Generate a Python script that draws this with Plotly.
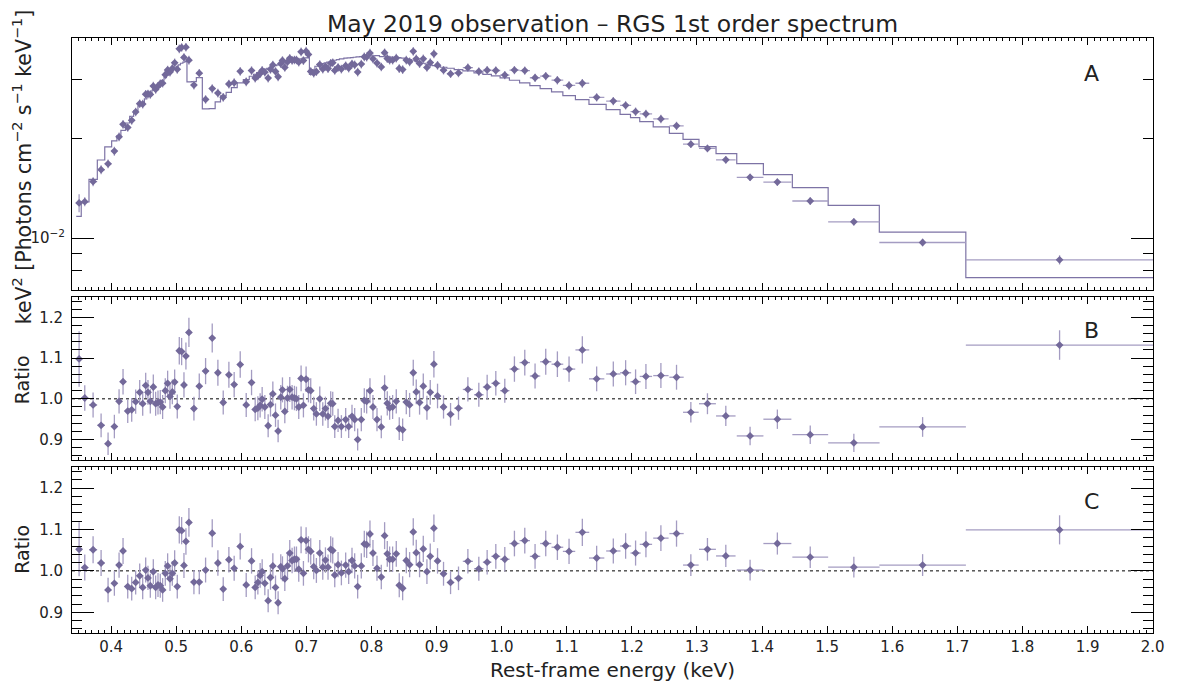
import numpy as np
import plotly.graph_objects as go

# ---------------- data ----------------
energy = [
    0.3509, 0.3596, 0.3724, 0.3847, 0.3954, 0.4051, 0.4123, 0.4184, 0.4256, 0.4317,
    0.4378, 0.4440, 0.4486, 0.4532, 0.4567, 0.4603, 0.4649, 0.4685, 0.4721, 0.4756,
    0.4792, 0.4833, 0.4869, 0.4905, 0.4941, 0.4977, 0.5017, 0.5048, 0.5084, 0.5120,
    0.5150, 0.5196, 0.5273, 0.5355, 0.5452, 0.5554, 0.5641, 0.5723, 0.5810, 0.5891,
    0.5984, 0.6076, 0.6158, 0.6214, 0.6255, 0.6290, 0.6321, 0.6362, 0.6413, 0.6449,
    0.6485, 0.6526, 0.6566, 0.6607, 0.6633, 0.6669, 0.6710, 0.6745, 0.6781, 0.6817,
    0.6848, 0.6883, 0.6919, 0.6955, 0.6996, 0.7032, 0.7067, 0.7113, 0.7154, 0.7206,
    0.7252, 0.7293, 0.7333, 0.7374, 0.7405, 0.7436, 0.7487, 0.7538, 0.7604, 0.7650,
    0.7701, 0.7742, 0.7788, 0.7844, 0.7890, 0.7926, 0.7977, 0.8023, 0.8085, 0.8151,
    0.8202, 0.8243, 0.8279, 0.8325, 0.8381, 0.8427, 0.8479, 0.8535, 0.8586, 0.8642,
    0.8688, 0.8739, 0.8796, 0.8852, 0.8903, 0.8959, 0.9015, 0.9107, 0.9215, 0.9337,
    0.9481, 0.9649, 0.9777, 0.9910, 1.0048, 1.0196, 1.0355, 1.0513, 1.0677, 1.0856,
    1.1035, 1.1239, 1.1459, 1.1715, 1.1904, 1.2057, 1.2216, 1.2446, 1.2686, 1.2906,
    1.3161, 1.3443, 1.3816, 1.4235, 1.474, 1.541, 1.6466, 1.857,
]

half_width = [
    0.0044, 0.0054, 0.0063, 0.0058, 0.0051, 0.0042, 0.0033, 0.0033, 0.0033, 0.0031,
    0.0031, 0.0027, 0.0023, 0.0020, 0.0018, 0.0020, 0.0021, 0.0018, 0.0018, 0.0018,
    0.0019, 0.0019, 0.0018, 0.0018, 0.0018, 0.0019, 0.0018, 0.0017, 0.0018, 0.0017,
    0.0019, 0.0030, 0.0040, 0.0045, 0.0050, 0.0047, 0.0042, 0.0042, 0.0042, 0.0043,
    0.0046, 0.0044, 0.0035, 0.0024, 0.0019, 0.0017, 0.0018, 0.0023, 0.0022, 0.0018,
    0.0019, 0.0020, 0.0020, 0.0017, 0.0016, 0.0019, 0.0019, 0.0018, 0.0018, 0.0017,
    0.0017, 0.0018, 0.0018, 0.0019, 0.0019, 0.0018, 0.0020, 0.0022, 0.0023, 0.0025,
    0.0022, 0.0020, 0.0020, 0.0018, 0.0015, 0.0020, 0.0025, 0.0030, 0.0028, 0.0024,
    0.0023, 0.0022, 0.0025, 0.0025, 0.0020, 0.0022, 0.0024, 0.0027, 0.0030, 0.0028,
    0.0023, 0.0019, 0.0020, 0.0025, 0.0026, 0.0025, 0.0027, 0.0027, 0.0027, 0.0025,
    0.0025, 0.0027, 0.0028, 0.0027, 0.0027, 0.0028, 0.0037, 0.0050, 0.0057, 0.0066,
    0.0078, 0.0074, 0.0066, 0.0068, 0.0072, 0.0077, 0.0080, 0.0080, 0.0086, 0.0090,
    0.0095, 0.0106, 0.0118, 0.0110, 0.0085, 0.0078, 0.0095, 0.0118, 0.0110, 0.0120,
    0.0130, 0.0150, 0.0205, 0.0215, 0.0275, 0.0395, 0.0665, 0.1440,
]

flux = [
    0.01276, 0.01287, 0.01479, 0.01606, 0.01673, 0.01827, 0.02017, 0.02199, 0.02153, 0.02262,
    0.02396, 0.02538, 0.02531, 0.02709, 0.02714, 0.02705, 0.02866, 0.02803, 0.02864, 0.02914,
    0.02925, 0.03101, 0.03207, 0.03159, 0.03238, 0.03369, 0.03219, 0.03712, 0.03748, 0.03497,
    0.03754, 0.03431, 0.02886, 0.03134, 0.02613, 0.02817, 0.02732, 0.02653, 0.02908, 0.02936,
    0.03176, 0.02954, 0.03192, 0.03030, 0.03076, 0.03126, 0.03196, 0.03157, 0.03030, 0.03220,
    0.03320, 0.03172, 0.03058, 0.03348, 0.03424, 0.03262, 0.03389, 0.03475, 0.03427, 0.03436,
    0.03437, 0.03384, 0.03634, 0.03421, 0.03652, 0.03570, 0.03173, 0.03137, 0.03167, 0.03327,
    0.03226, 0.03285, 0.03237, 0.03360, 0.03372, 0.03196, 0.03262, 0.03226, 0.03300, 0.03248,
    0.03343, 0.03322, 0.03158, 0.03338, 0.03511, 0.03505, 0.03604, 0.03462, 0.03361, 0.03274,
    0.03612, 0.03470, 0.03432, 0.03431, 0.03480, 0.03238, 0.03213, 0.03433, 0.03393, 0.03648,
    0.03463, 0.03352, 0.03462, 0.03262, 0.03373, 0.03585, 0.03312, 0.03201, 0.03121, 0.03140,
    0.03257, 0.03171, 0.03201, 0.03193, 0.03094, 0.03203, 0.03191, 0.03037, 0.03073, 0.02987,
    0.02880, 0.02923, 0.02651, 0.02584, 0.02509, 0.02401, 0.02364, 0.02283, 0.02177, 0.01917,
    0.01861, 0.01720, 0.01523, 0.01474, 0.01293, 0.01119, 0.00970, 0.00860,
]

model = [
    0.01162, 0.01284, 0.01502, 0.01718, 0.01880, 0.01960, 0.02029, 0.02110, 0.02220, 0.02325,
    0.02413, 0.02498, 0.02562, 0.02622, 0.02671, 0.02721, 0.02785, 0.02837, 0.02890, 0.02937,
    0.02985, 0.03040, 0.03090, 0.03140, 0.03184, 0.03236, 0.03281, 0.03320, 0.03358, 0.03382,
    0.03397, 0.02950, 0.02957, 0.03040, 0.02447, 0.02452, 0.02568, 0.02677, 0.02746, 0.02837,
    0.02930, 0.02999, 0.03069, 0.03111, 0.03148, 0.03177, 0.03199, 0.03221, 0.03244, 0.03266,
    0.03281, 0.03304, 0.03320, 0.03335, 0.03350, 0.03366, 0.03382, 0.03397, 0.03413, 0.03429,
    0.03437, 0.03453, 0.03461, 0.03477, 0.03485, 0.03493, 0.03111, 0.03214, 0.03289, 0.03327,
    0.03350, 0.03366, 0.03382, 0.03397, 0.03413, 0.03429, 0.03445, 0.03461, 0.03477, 0.03485,
    0.03493, 0.03501, 0.03509, 0.03517, 0.03525, 0.03525, 0.03533, 0.03533, 0.03542, 0.03517,
    0.03517, 0.03509, 0.03509, 0.03501, 0.03501, 0.03493, 0.03477, 0.03461, 0.03445, 0.03429,
    0.03405, 0.03382, 0.03358, 0.03335, 0.03320, 0.03304, 0.03289, 0.03266, 0.03244, 0.03214,
    0.03184, 0.03140, 0.03111, 0.03076, 0.03033, 0.02985, 0.02930, 0.02876, 0.02817, 0.02753,
    0.02684, 0.02610, 0.02527, 0.02435, 0.02358, 0.02304, 0.02241, 0.02160, 0.02067, 0.01982,
    0.01884, 0.01795, 0.01675, 0.01552, 0.01418, 0.01254, 0.01042, 0.00760,
]

ratio_b = [
    1.098, 1.002, 0.985, 0.935, 0.890, 0.932, 0.994, 1.042, 0.970, 0.973,
    0.993, 1.016, 0.988, 1.033, 1.016, 0.994, 1.029, 0.988, 0.991, 0.992,
    0.980, 1.020, 1.038, 1.006, 1.017, 1.041, 0.981, 1.118, 1.116, 1.034,
    1.105, 1.163, 0.976, 1.031, 1.068, 1.149, 1.064, 0.991, 1.059, 1.035,
    1.084, 0.985, 1.040, 0.974, 0.977, 0.984, 0.999, 0.980, 0.934, 0.986,
    1.012, 0.960, 0.921, 1.004, 1.022, 0.969, 1.002, 1.023, 1.004, 1.002,
    1.000, 0.980, 1.050, 0.984, 1.048, 1.022, 1.020, 0.976, 0.963, 1.000,
    0.963, 0.976, 0.957, 0.989, 0.988, 0.932, 0.947, 0.932, 0.949, 0.932,
    0.957, 0.949, 0.900, 0.949, 0.996, 0.994, 1.020, 0.980, 0.949, 0.931,
    1.027, 0.989, 0.978, 0.980, 0.994, 0.927, 0.924, 0.992, 0.985, 1.064,
    1.017, 0.991, 1.031, 0.978, 1.016, 1.085, 1.007, 0.980, 0.962, 0.977,
    1.023, 1.010, 1.029, 1.038, 1.020, 1.073, 1.089, 1.056, 1.091, 1.085,
    1.073, 1.120, 1.049, 1.061, 1.064, 1.042, 1.055, 1.057, 1.053, 0.967,
    0.988, 0.958, 0.909, 0.950, 0.912, 0.892, 0.931, 1.132,
]

ratio_c = [
    1.052, 1.008, 1.051, 1.019, 0.954, 0.970, 1.014, 1.048, 0.962, 0.957,
    0.972, 0.988, 0.960, 1.002, 0.983, 0.964, 0.998, 0.960, 0.966, 0.964,
    0.954, 0.994, 1.012, 0.981, 0.994, 1.019, 0.962, 1.099, 1.097, 1.013,
    1.071, 1.117, 0.973, 0.973, 1.002, 1.091, 1.019, 0.956, 1.027, 1.006,
    1.059, 0.966, 1.024, 0.960, 0.972, 0.989, 0.998, 0.970, 0.928, 0.984,
    1.012, 0.960, 0.923, 1.010, 1.005, 0.981, 1.012, 1.043, 1.025, 1.028,
    1.028, 1.004, 1.075, 0.994, 1.073, 1.052, 1.047, 1.010, 1.001, 1.043,
    1.009, 1.026, 1.009, 1.052, 1.049, 0.990, 1.015, 0.995, 1.014, 0.998,
    1.025, 1.012, 0.962, 1.012, 1.065, 1.063, 1.089, 1.043, 1.006, 0.985,
    1.085, 1.041, 1.028, 1.028, 1.041, 0.965, 0.958, 1.025, 1.015, 1.094,
    1.044, 1.015, 1.053, 0.998, 1.035, 1.103, 1.024, 0.993, 0.972, 0.982,
    1.023, 1.005, 1.021, 1.035, 1.028, 1.066, 1.073, 1.035, 1.066, 1.057,
    1.047, 1.093, 1.031, 1.048, 1.060, 1.043, 1.064, 1.079, 1.090, 1.014,
    1.052, 1.036, 1.002, 1.066, 1.033, 1.009, 1.014, 1.099,
]

rel_err = [
    0.062, 0.031, 0.031, 0.031, 0.031, 0.031, 0.030, 0.030, 0.030, 0.030,
    0.030, 0.030, 0.030, 0.030, 0.030, 0.030, 0.030, 0.030, 0.030, 0.030,
    0.030, 0.030, 0.030, 0.030, 0.030, 0.030, 0.030, 0.030, 0.030, 0.030,
    0.030, 0.031, 0.030, 0.030, 0.030, 0.031, 0.030, 0.030, 0.030, 0.030,
    0.030, 0.030, 0.030, 0.030, 0.030, 0.030, 0.030, 0.030, 0.030, 0.030,
    0.030, 0.030, 0.030, 0.030, 0.030, 0.030, 0.030, 0.030, 0.030, 0.030,
    0.030, 0.030, 0.030, 0.030, 0.030, 0.030, 0.030, 0.030, 0.030, 0.030,
    0.030, 0.030, 0.030, 0.030, 0.030, 0.030, 0.030, 0.030, 0.030, 0.030,
    0.030, 0.030, 0.030, 0.030, 0.030, 0.030, 0.030, 0.030, 0.030, 0.030,
    0.030, 0.030, 0.030, 0.030, 0.030, 0.030, 0.030, 0.030, 0.030, 0.030,
    0.030, 0.030, 0.030, 0.030, 0.030, 0.030, 0.030, 0.029, 0.029, 0.029,
    0.029, 0.029, 0.029, 0.029, 0.029, 0.029, 0.029, 0.029, 0.029, 0.029,
    0.029, 0.030, 0.029, 0.029, 0.029, 0.029, 0.029, 0.029, 0.029, 0.026,
    0.026, 0.026, 0.025, 0.025, 0.025, 0.025, 0.026, 0.032,
]

title_text = "May 2019 observation – RGS 1st order spectrum"
x_title = "Rest-frame energy (keV)"
y_title_a = "keV<sup>2</sup> [Photons cm<sup>−2</sup> s<sup>−1</sup> keV<sup>−1</sup>]"
panel_labels = ["A", "B", "C"]
x_ticks = [0.4, 0.5, 0.6, 0.7, 0.8, 0.9, 1.0, 1.1, 1.2, 1.3, 1.4, 1.5, 1.6, 1.7, 1.8, 1.9, 2.0]
ratio_ticks = [0.9, 1.0, 1.1, 1.2]

# ---------------- styling ----------------
PT = "#73699a"      # data point colour
ERR = "#a49cc2"     # error bar colour
MOD = "#7d73a5"     # model line colour
FONT = "DejaVu Sans"
TXT = "#222"

flux_err = [f * r for f, r in zip(flux, rel_err)]
rb_err = [v * r for v, r in zip(ratio_b, rel_err)]
rc_err = [v * r for v, r in zip(ratio_c, rel_err)]

step_x = [e - h for e, h in zip(energy, half_width)] + [energy[-1] + half_width[-1]]
step_y = model + [model[-1]]

fig = go.Figure()


def data_trace(y, yerr, xa, ya):
    return go.Scatter(
        x=energy, y=y, mode="markers", xaxis=xa, yaxis=ya,
        marker=dict(symbol="diamond", size=6, color=PT, line=dict(width=0)),
        error_x=dict(type="data", array=half_width, color=ERR, thickness=1.3, width=0),
        error_y=dict(type="data", array=yerr, color=ERR, thickness=1.3, width=0),
        showlegend=False, hoverinfo="x+y",
    )


fig.add_trace(go.Scatter(x=step_x, y=step_y, mode="lines", line=dict(color=MOD, width=1.2, shape="hv"),
                         xaxis="x", yaxis="y", showlegend=False))
fig.add_trace(data_trace(flux, flux_err, "x", "y"))
fig.add_trace(data_trace(ratio_b, rb_err, "x2", "y2"))
fig.add_trace(data_trace(ratio_c, rc_err, "x3", "y3"))

xbase = dict(
    range=[0.34, 2.0005], showline=True, linecolor="black", linewidth=1, mirror="allticks",
    ticks="inside", ticklen=7, tickwidth=1, tickcolor="black",
    tickvals=x_ticks, tickformat=".1f",
    minor=dict(dtick=0.01, tick0=0, ticks="inside", ticklen=3, tickwidth=1, tickcolor="black"),
    showgrid=False, zeroline=False, tickfont=dict(size=15, family=FONT, color=TXT),
)

ybase_ratio = dict(
    range=[0.85, 1.25], showline=True, linecolor="black", linewidth=1, mirror="allticks",
    ticks="inside", ticklen=22, tickwidth=1, tickcolor="black",
    tickvals=ratio_ticks, ticktext=["%.1f" % v for v in ratio_ticks],
    minor=dict(dtick=0.02, tick0=0, ticks="inside", ticklen=10, tickwidth=1, tickcolor="black"),
    showgrid=False, zeroline=False, tickfont=dict(size=15, family=FONT, color=TXT),
    ticklabelstandoff=5,
)

dom_a = [0.5772, 1.0]
dom_b = [0.2908, 0.5648]
dom_c = [0.0, 0.2785]

# page has an 8px body margin: size/margins chosen so the plot area lands at x 72-1155, y 38-633
FIG_W, FIG_H = 1169, 682
fig.update_layout(
    width=FIG_W, height=FIG_H,
    margin=dict(l=64, r=22, t=30, b=57),
    paper_bgcolor="white", plot_bgcolor="white",
    font=dict(family=FONT, color=TXT),
    xaxis=dict(xbase, anchor="y", showticklabels=False),
    xaxis2=dict(xbase, anchor="y2", showticklabels=False, matches="x"),
    xaxis3=dict(xbase, anchor="y3", showticklabels=True, matches="x"),
    yaxis=dict(
        type="log", domain=dom_a, range=[np.log10(0.007), np.log10(0.04)],
        showline=True, linecolor="black", linewidth=1, mirror="allticks",
        ticks="inside", ticklen=22, tickwidth=1, tickcolor="black",
        tickvals=[0.01], ticktext=["10<sup>−2</sup>"],
        minor=dict(tickvals=[0.008, 0.009, 0.02, 0.03], ticks="inside", ticklen=10, tickwidth=1,
                   tickcolor="black"),
        showgrid=False, zeroline=False, tickfont=dict(size=15, family=FONT, color=TXT),
        ticklabelstandoff=3,
    ),
    yaxis2=dict(ybase_ratio, domain=dom_b),
    yaxis3=dict(ybase_ratio, domain=dom_c),
)

for ya in ["y2", "y3"]:
    fig.add_shape(type="line", xref="paper", x0=0, x1=1, yref=ya, y0=1.0, y1=1.0,
                  line=dict(color="black", width=1, dash="3px,3px"), layer="below")

ann = []
# chart title (placed as an annotation centred above the plot area)
ann.append(dict(text=title_text, xref="paper", yref="paper", x=0.5, y=1.0227, showarrow=False,
                xanchor="center", yanchor="middle", font=dict(size=23.5, family=FONT, color=TXT)))
for lab, yp in zip(panel_labels, [0.940, 0.5089, 0.2203]):
    ann.append(dict(text=lab, xref="paper", yref="paper", x=0.9428, y=yp, showarrow=False,
                    xanchor="center", yanchor="middle", font=dict(size=22, family=FONT, color=TXT)))
ann.append(dict(text=y_title_a, xref="paper", yref="paper", x=-0.0462, y=0.783, showarrow=False,
                textangle=-90, xanchor="center", yanchor="middle",
                font=dict(size=20.5, family=FONT, color=TXT)))
for yp in [0.425, 0.140]:
    ann.append(dict(text="Ratio", xref="paper", yref="paper", x=-0.0462, y=yp, showarrow=False,
                    textangle=-90, xanchor="center", yanchor="middle",
                    font=dict(size=19, family=FONT, color=TXT)))
ann.append(dict(text=x_title, xref="paper", yref="paper", x=0.5, y=-0.0616, showarrow=False,
                xanchor="center", yanchor="middle", font=dict(size=20, family=FONT, color=TXT)))
fig.update_layout(annotations=ann)

fig.write_html("out.html")
